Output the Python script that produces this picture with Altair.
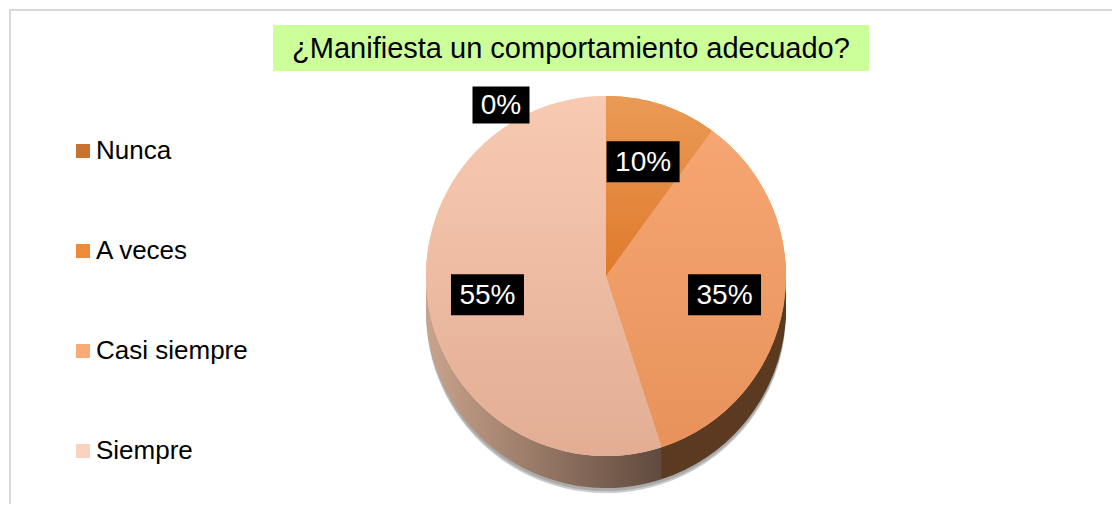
import altair as alt
import pandas as pd

# ---- data ----
categories = ["Nunca", "A veces", "Casi siempre", "Siempre"]
values = [0, 10, 35, 55]
labels = ["0%", "10%", "35%", "55%"]
legend_colors = ["#c8722f", "#ef8a38", "#f8ab76", "#fad3c0"]
title_text = "¿Manifiesta un comportamiento adecuado?"

df = pd.DataFrame({"cat": categories, "value": values, "label": labels,
                   "idx": list(range(len(categories)))})

# ---- layout constants ----
W, H = 1104, 496
CX, CY, R, DEPTH = 597, 267, 180, 32
R_IN, R_OUT, DX_OUT = 120, 171, -105
FONT = "Liberation Sans"

base = alt.Chart(df).transform_window(
    end="sum(value)", frame=[None, 0], sort=[alt.SortField("idx")]
).transform_calculate(
    start="datum.end - datum.value",
    mid="datum.end - datum.value / 2",
)
theta_scale = alt.Scale(domain=[0, 100])


def grad(c1, c2, horizontal=False):
    return alt.LinearGradient(
        gradient="linear",
        stops=[alt.GradientStop(color=c1, offset=0), alt.GradientStop(color=c2, offset=1)],
        x1=0, y1=0, x2=1 if horizontal else 0, y2=0 if horizontal else 1,
    )


def cond_color(mapping, default):
    return alt.ColorValue(
        default,
        condition=[{"test": f"datum.cat === '{k}'", "value": v} for k, v in mapping.items()],
    )


def arc_layer(color, y_off=0, opacity=1.0):
    return base.mark_arc(radius=R, yOffset=y_off, opacity=opacity).encode(
        x=alt.value(CX), y=alt.value(CY),
        theta=alt.Theta("start:Q", scale=theta_scale), theta2="end:Q",
        color=color,
    )


layers = []
# shadow
layers.append(arc_layer(alt.value("#8c8c8c"), y_off=DEPTH + 5, opacity=0.45))
layers.append(arc_layer(alt.value("#8c8c8c"), y_off=DEPTH + 3, opacity=0.5))
# sides
side_map = {"Casi siempre": "#5c3b22", "A veces": "#6e3c14", "Nunca": "#6e3c14"}
side_default = grad("#caa38c", "#5f4a3d", horizontal=True)
for off in range(DEPTH, 0, -2):
    layers.append(arc_layer(cond_color(side_map, side_default), y_off=off))

# top face with legend colours
layers.append(arc_layer(alt.Color(
    "cat:N", sort=categories,
    scale=alt.Scale(domain=categories, range=legend_colors),
    legend=alt.Legend(
        orient="none", legendX=61, legendY=129, title=None,
        symbolType="square", symbolSize=196, symbolStrokeWidth=0,
        labelFont=FONT, labelFontSize=26, labelColor="black",
        rowPadding=74, labelOffset=0, padding=0,
    ),
)))
# top face gradients
top_map = {
    "Casi siempre": grad("#f6a672", "#e8925b"),
    "A veces": grad("#ea9a55", "#e07a2c"),
    "Nunca": "#c8722f",
}
layers.append(arc_layer(cond_color(top_map, grad("#f8cab2", "#e2ad93"))))

# label boxes (black), centred on the label anchor
boxes = base.transform_calculate(
    ang="datum.mid / 100 * 2 * PI",
    rr=f"datum.cat === 'Nunca' ? {R_OUT} : {R_IN}",
    ox=f"datum.cat === 'Nunca' ? {DX_OUT} : 0",
    hw="datum.cat === 'Nunca' ? 28.5 : 36.5",
    hh="datum.cat === 'Nunca' ? 18.5 : 20.5",
).transform_calculate(
    bx=f"{CX} + datum.rr * sin(datum.ang) + datum.ox",
    by=f"{CY} - datum.rr * cos(datum.ang)",
).transform_calculate(
    bx1="datum.bx - datum.hw", bx2="datum.bx + datum.hw",
    by1="datum.by - datum.hh", by2="datum.by + datum.hh",
)
layers.append(boxes.mark_rect(color="black").encode(
    x=alt.X("bx1:Q", scale=None), x2="bx2:Q",
    y=alt.Y("by1:Q", scale=None), y2="by2:Q",
))

# label texts
inner = base.transform_filter("datum.cat !== 'Nunca'")
outer = base.transform_filter("datum.cat === 'Nunca'")
pos = dict(x=alt.value(CX), y=alt.value(CY), theta=alt.Theta("mid:Q", scale=theta_scale))
layers.append(inner.mark_text(radius=R_IN, font=FONT, fontSize=28, color="white", dy=1).encode(
    text="label:N", **pos))
layers.append(outer.mark_text(radius=R_OUT, font=FONT, fontSize=28, color="white",
                              dx=DX_OUT, dy=1).encode(text="label:N", **pos))

# title
tdf = pd.DataFrame({"t": [title_text]})
layers.append(alt.Chart(tdf).mark_rect(color="#ccff99").encode(
    x=alt.value(264), x2=alt.value(860), y=alt.value(16), y2=alt.value(62)))
layers.append(alt.Chart(tdf).mark_text(font=FONT, fontSize=29, color="black").encode(
    text="t:N", x=alt.value(562), y=alt.value(40)))

# frame
layers.append(alt.Chart(tdf).mark_rule(color="#d9d9d9", strokeWidth=2).encode(
    x=alt.value(1), y=alt.value(0), y2=alt.value(H)))
layers.append(alt.Chart(tdf).mark_rule(color="#d9d9d9", strokeWidth=2).encode(
    y=alt.value(1), x=alt.value(0), x2=alt.value(W)))

chart = alt.layer(*layers).properties(
    width=W, height=H, padding=0,
    autosize=alt.AutoSizeParams(type="fit", contains="padding"),
).configure_view(stroke=None)

chart.save("out.html", embed_options={"renderer": "svg", "actions": False})
